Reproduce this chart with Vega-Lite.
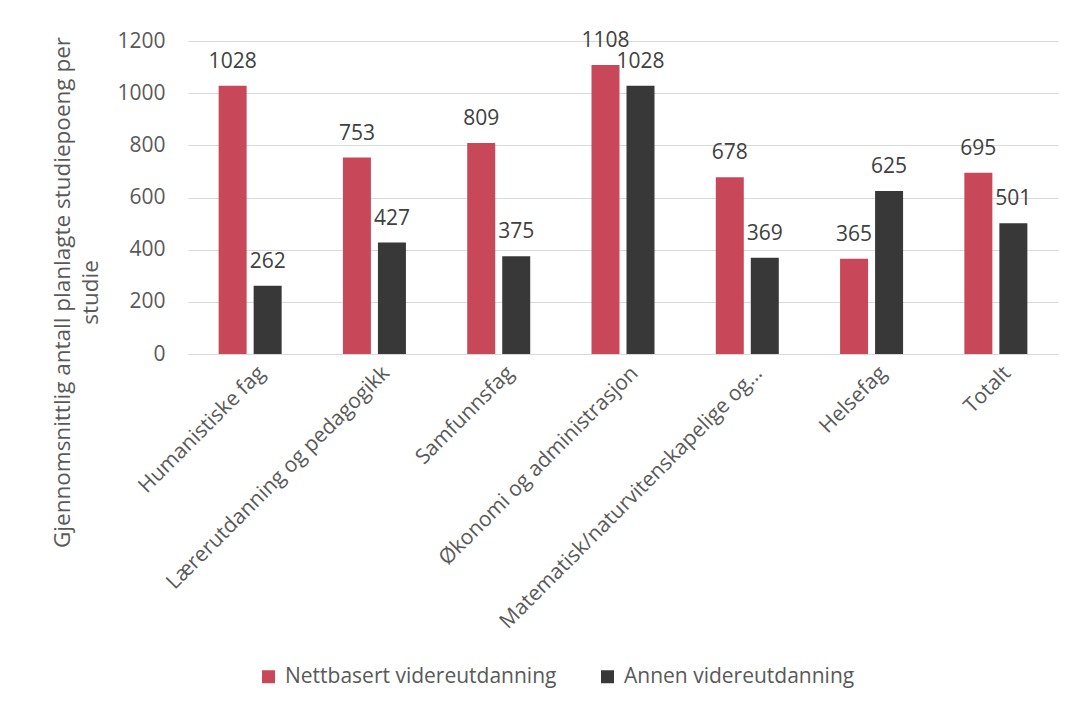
{
  "$schema": "https://vega.github.io/schema/vega-lite/v6.json",
  "width": 870,
  "height": 313,
  "autosize": {"type": "none"},
  "padding": {"left": 188, "top": 41, "right": 15, "bottom": 353},
  "background": "white",
  "config": {
    "font": "Open Sans",
    "view": {"stroke": null}
  },
  "data": {
    "values": [
      {"kategori": "Humanistiske fag", "serie": "Nettbasert videreutdanning", "verdi": 1028},
      {"kategori": "Humanistiske fag", "serie": "Annen videreutdanning", "verdi": 262},
      {"kategori": "Lærerutdanning og pedagogikk", "serie": "Nettbasert videreutdanning", "verdi": 753},
      {"kategori": "Lærerutdanning og pedagogikk", "serie": "Annen videreutdanning", "verdi": 427},
      {"kategori": "Samfunnsfag", "serie": "Nettbasert videreutdanning", "verdi": 809},
      {"kategori": "Samfunnsfag", "serie": "Annen videreutdanning", "verdi": 375},
      {"kategori": "Økonomi og administrasjon", "serie": "Nettbasert videreutdanning", "verdi": 1108},
      {"kategori": "Økonomi og administrasjon", "serie": "Annen videreutdanning", "verdi": 1028},
      {"kategori": "Matematisk/naturvitenskapelige og…", "serie": "Nettbasert videreutdanning", "verdi": 678},
      {"kategori": "Matematisk/naturvitenskapelige og…", "serie": "Annen videreutdanning", "verdi": 369},
      {"kategori": "Helsefag", "serie": "Nettbasert videreutdanning", "verdi": 365},
      {"kategori": "Helsefag", "serie": "Annen videreutdanning", "verdi": 625},
      {"kategori": "Totalt", "serie": "Nettbasert videreutdanning", "verdi": 695},
      {"kategori": "Totalt", "serie": "Annen videreutdanning", "verdi": 501}
    ]
  },
  "encoding": {
    "x": {
      "field": "kategori",
      "type": "nominal",
      "sort": null,
      "scale": {"paddingInner": 0.493, "paddingOuter": 0.2465},
      "axis": {
        "title": null,
        "labelAngle": -45,
        "labelFontSize": 21,
        "labelColor": "#595959",
        "labelLimit": 500,
        "labelPadding": 8,
        "labelOffset": 4,
        "ticks": false,
        "domainColor": "#d9d9d9",
        "domainWidth": 1
      }
    },
    "xOffset": {
      "field": "serie",
      "sort": ["Nettbasert videreutdanning", "Annen videreutdanning"],
      "scale": {"paddingInner": 0.2, "paddingOuter": 0}
    },
    "y": {
      "field": "verdi",
      "type": "quantitative",
      "scale": {"domain": [0, 1200], "nice": false},
      "axis": {
        "values": [0, 200, 400, 600, 800, 1000, 1200],
        "format": "d",
        "grid": true,
        "gridColor": "#d9d9d9",
        "gridWidth": 1,
        "domain": false,
        "ticks": false,
        "labelFontSize": 21,
        "labelColor": "#595959",
        "labelPadding": 23,
        "title": ["Gjennomsnittlig antall planlagte studiepoeng per", "studie"],
        "titleFontSize": 22.5,
        "titleFontWeight": "normal",
        "titleColor": "#595959",
        "titleAngle": -90,
        "titleAlign": "center",
        "titleBaseline": "middle",
        "titleLineHeight": 28,
        "titleX": -126,
        "titleY": 251
      }
    }
  },
  "layer": [
    {
      "mark": {"type": "bar"},
      "encoding": {
        "color": {
          "field": "serie",
          "type": "nominal",
          "scale": {
            "domain": ["Nettbasert videreutdanning", "Annen videreutdanning"],
            "range": ["#C8485A", "#383838"]
          },
          "legend": {
            "title": null,
            "orient": "none",
            "direction": "horizontal",
            "legendX": 70,
            "legendY": 625,
            "symbolType": "square",
            "symbolSize": 169,
            "symbolStrokeWidth": 0,
            "labelFontSize": 21,
            "labelColor": "#595959",
            "labelOffset": 6,
            "columnPadding": 40,
            "labelLimit": 400
          }
        }
      }
    },
    {
      "mark": {"type": "text", "baseline": "alphabetic", "dy": -18, "fontSize": 21, "color": "#404040"},
      "encoding": {
        "text": {"field": "verdi", "type": "quantitative"}
      }
    }
  ]
}
